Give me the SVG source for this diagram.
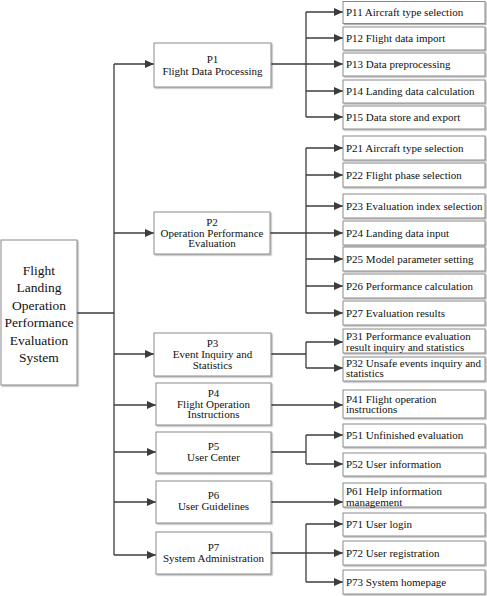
<svg xmlns="http://www.w3.org/2000/svg" width="487" height="596" viewBox="0 0 487 596">
<style>
.box{fill:#fff;stroke:#8a8a8a;stroke-width:1;filter:url(#sh)}
.t{font-family:"Liberation Serif","Times New Roman",serif;font-size:11px;fill:#111}
.m{text-anchor:middle}
.r{font-size:13.5px}
.ln{fill:none;stroke:#3c3c3c;stroke-width:1.3}
.ar{fill:none;stroke:#3c3c3c;stroke-width:1.3;marker-end:url(#ah)}
</style>
<defs>
<filter id="sh" x="-10%" y="-10%" width="130%" height="140%">
<feDropShadow dx="1.2" dy="1.2" stdDeviation="0.6" flood-color="#000" flood-opacity="0.3"/>
</filter>
<marker id="ah" markerUnits="userSpaceOnUse" markerWidth="9" markerHeight="8" refX="9" refY="4" orient="auto">
<path d="M0,0 L9,4 L0,8 Z" fill="#3c3c3c"/>
</marker>
</defs>
<g id="connectors">
<path class="ln" d="M77,313 H114 M114,64 V555"/>
<path class="ar" d="M114,64 H154"/>
<path class="ar" d="M114,233 H154"/>
<path class="ar" d="M114,354 H154"/>
<path class="ar" d="M114,405 H156"/>
<path class="ar" d="M114,452 H156"/>
<path class="ar" d="M114,502 H156"/>
<path class="ar" d="M114,555 H156"/>
<path class="ln" d="M271,64 H306 M306,12 V117"/>
<path class="ar" d="M306,12 H343"/>
<path class="ar" d="M306,38 H343"/>
<path class="ar" d="M306,64 H343"/>
<path class="ar" d="M306,91 H343"/>
<path class="ar" d="M306,117 H343"/>
<path class="ln" d="M270,233 H306 M306,148 V313"/>
<path class="ar" d="M306,148 H343"/>
<path class="ar" d="M306,175 H343"/>
<path class="ar" d="M306,206 H343"/>
<path class="ar" d="M306,233 H343"/>
<path class="ar" d="M306,259 H343"/>
<path class="ar" d="M306,286 H343"/>
<path class="ar" d="M306,313 H343"/>
<path class="ln" d="M271,354 H306 M306,342 V368"/>
<path class="ar" d="M306,342 H343"/>
<path class="ar" d="M306,368 H343"/>
<path class="ar" d="M271,405 H343"/>
<path class="ln" d="M271,452 H306 M306,435 V464"/>
<path class="ar" d="M306,435 H343"/>
<path class="ar" d="M306,464 H343"/>
<path class="ar" d="M271,502 H343"/>
<path class="ln" d="M271,553 H306 M306,524 V582"/>
<path class="ar" d="M306,524 H343"/>
<path class="ar" d="M306,553 H343"/>
<path class="ar" d="M306,582 H343"/>
</g>
<g id="root">
<rect class="box" x="1" y="240" width="76" height="145"/>
<text class="t m r" x="39" y="274.5">Flight</text>
<text class="t m r" x="39" y="292">Landing</text>
<text class="t m r" x="39" y="309.5">Operation</text>
<text class="t m r" x="39" y="327">Performance</text>
<text class="t m r" x="39" y="344.5">Evaluation</text>
<text class="t m r" x="39" y="362">System</text>
</g>
<g id="P1">
<rect class="box" x="154" y="43" width="117" height="44"/>
<text class="t m" x="212.5" y="62.5">P1</text>
<text class="t m" x="212.5" y="74.5">Flight Data Processing</text>
</g>
<g id="P2">
<rect class="box" x="154" y="212" width="116" height="42"/>
<text class="t m" x="212" y="225.5">P2</text>
<text class="t m" x="212" y="236.5">Operation Performance</text>
<text class="t m" x="212" y="247">Evaluation</text>
</g>
<g id="P3">
<rect class="box" x="154" y="333" width="117" height="43"/>
<text class="t m" x="212.5" y="346.5">P3</text>
<text class="t m" x="212.5" y="357.5">Event Inquiry and</text>
<text class="t m" x="212.5" y="368.5">Statistics</text>
</g>
<g id="P4">
<rect class="box" x="156" y="383" width="115" height="42"/>
<text class="t m" x="213.5" y="396.5">P4</text>
<text class="t m" x="213.5" y="407.5">Flight Operation</text>
<text class="t m" x="213.5" y="418">Instructions</text>
</g>
<g id="P5">
<rect class="box" x="156" y="432" width="115" height="41"/>
<text class="t m" x="213.5" y="449.5">P5</text>
<text class="t m" x="213.5" y="460.5">User Center</text>
</g>
<g id="P6">
<rect class="box" x="156" y="481" width="115" height="42"/>
<text class="t m" x="213.5" y="498.5">P6</text>
<text class="t m" x="213.5" y="510">User Guidelines</text>
</g>
<g id="P7">
<rect class="box" x="156" y="532" width="115" height="42"/>
<text class="t m" x="213.5" y="550.5">P7</text>
<text class="t m" x="213.5" y="561.5">System Administration</text>
</g>
<g id="P11"><rect class="box" x="343" y="1.5" width="142" height="22"/><text class="t" x="346" y="16">P11 Aircraft type selection</text></g>
<g id="P12"><rect class="box" x="343" y="27" width="142" height="23"/><text class="t" x="346" y="42">P12 Flight data import</text></g>
<g id="P13"><rect class="box" x="343" y="53" width="142" height="23"/><text class="t" x="346" y="68">P13 Data preprocessing</text></g>
<g id="P14"><rect class="box" x="343" y="80" width="142" height="23"/><text class="t" x="346" y="95">P14 Landing data calculation</text></g>
<g id="P15"><rect class="box" x="343" y="106" width="142" height="23"/><text class="t" x="346" y="121">P15 Data store and export</text></g>
<g id="P21"><rect class="box" x="343" y="136" width="142" height="24"/><text class="t" x="346" y="152">P21 Aircraft type selection</text></g>
<g id="P22"><rect class="box" x="343" y="163" width="142" height="24"/><text class="t" x="346" y="179">P22 Flight phase selection</text></g>
<g id="P23"><rect class="box" x="343" y="194" width="142" height="24"/><text class="t" x="346" y="210">P23 Evaluation index selection</text></g>
<g id="P24"><rect class="box" x="343" y="221" width="142" height="24"/><text class="t" x="346" y="237">P24 Landing data input</text></g>
<g id="P25"><rect class="box" x="343" y="247" width="142" height="24"/><text class="t" x="346" y="263">P25 Model parameter setting</text></g>
<g id="P26"><rect class="box" x="343" y="274" width="142" height="24"/><text class="t" x="346" y="290">P26 Performance calculation</text></g>
<g id="P27"><rect class="box" x="343" y="301" width="142" height="24"/><text class="t" x="346" y="317">P27 Evaluation results</text></g>
<g id="P31"><rect class="box" x="343" y="329" width="142" height="24"/><text class="t" x="346" y="339.5">P31 Performance evaluation</text><text class="t" x="346" y="350.5">result inquiry and statistics</text></g>
<g id="P32"><rect class="box" x="343" y="357" width="142" height="24"/><text class="t" x="346" y="366.5">P32 Unsafe events inquiry and</text><text class="t" x="346" y="377">statistics</text></g>
<g id="P41"><rect class="box" x="343" y="390" width="142" height="28"/><text class="t" x="346" y="402.5">P41 Flight operation</text><text class="t" x="346" y="413">instructions</text></g>
<g id="P51"><rect class="box" x="343" y="424" width="142" height="23"/><text class="t" x="346" y="438.5">P51 Unfinished evaluation</text></g>
<g id="P52"><rect class="box" x="343" y="453" width="142" height="23"/><text class="t" x="346" y="468">P52 User information</text></g>
<g id="P61"><rect class="box" x="343" y="483" width="142" height="24"/><text class="t" x="346" y="494.5">P61 Help information</text><text class="t" x="346" y="505.5">management</text></g>
<g id="P71"><rect class="box" x="343" y="513" width="142" height="23"/><text class="t" x="346" y="528">P71 User login</text></g>
<g id="P72"><rect class="box" x="343" y="541" width="142" height="24"/><text class="t" x="346" y="557">P72 User registration</text></g>
<g id="P73"><rect class="box" x="343" y="570" width="142" height="24"/><text class="t" x="346" y="586">P73 System homepage</text></g>
</svg>
